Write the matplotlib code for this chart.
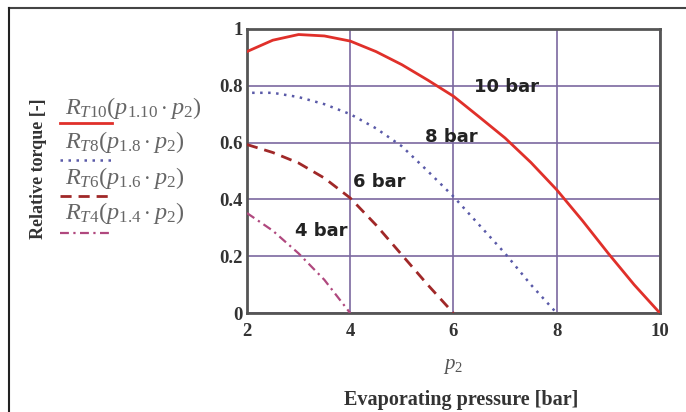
import matplotlib
matplotlib.use("Agg")
import matplotlib.pyplot as plt
from matplotlib.lines import Line2D

# ----------------- DATA -----------------
p2_10 = [2, 2.5, 3, 3.5, 4, 4.5, 5, 5.5, 6, 6.5, 7, 7.5, 8, 8.5, 9, 9.5, 10]
rt_10 = [0.92, 0.96, 0.98, 0.975, 0.957, 0.92, 0.874, 0.82, 0.763, 0.69, 0.616, 0.53, 0.434, 0.325, 0.21, 0.10, 0.0]

p2_8 = [2.1, 2.5, 3, 3.5, 4, 4.5, 5, 5.5, 6, 6.5, 7, 7.5, 8]
rt_8 = [0.775, 0.775, 0.76, 0.735, 0.70, 0.65, 0.587, 0.50, 0.41, 0.31, 0.21, 0.10, 0.0]

p2_6 = [2, 2.5, 3, 3.5, 4, 4.5, 5, 5.5, 6]
rt_6 = [0.593, 0.565, 0.528, 0.475, 0.405, 0.31, 0.205, 0.10, 0.0]

p2_4 = [2, 2.5, 3, 3.5, 4]
rt_4 = [0.352, 0.29, 0.21, 0.117, 0.0]

curve_labels = ["10 bar", "8 bar", "6 bar", "4 bar"]
label_pos = [(6.4, 0.795), (5.45, 0.62), (4.06, 0.46), (2.94, 0.29)]

legend_texts = [r"$R_{T10}(p_{1.10}\cdot p_2)$", r"$R_{T8}(p_{1.8}\cdot p_2)$",
                r"$R_{T6}(p_{1.6}\cdot p_2)$", r"$R_{T4}(p_{1.4}\cdot p_2)$"]

x_ticks = [2, 4, 6, 8, 10]
y_ticks = [0, 0.2, 0.4, 0.6, 0.8, 1]
y_tick_labels = ["0", "0.2", "0.4", "0.6", "0.8", "1"]

# ----------------- STYLES -----------------
plt.rcParams["font.family"] = ["Liberation Serif", "DejaVu Serif"]
plt.rcParams["mathtext.fontset"] = "custom"
plt.rcParams["mathtext.rm"] = "Liberation Serif"
plt.rcParams["mathtext.it"] = "Liberation Serif:italic"

styles = [
    dict(color="#e0302a", lw=2.0, ls="-"),
    dict(color="#5a5aa8", lw=1.8, ls=(0, (1, 2.2))),
    dict(color="#a02828", lw=2.0, ls=(0, (4, 2.5))),
    dict(color="#b0487e", lw=1.6, ls=(0, (4, 2, 1, 2))),
]

fig = plt.figure(figsize=(6.86, 4.12), dpi=100)
ax = fig.add_axes([0.360, 0.240, 0.602, 0.690])

series = [(p2_10, rt_10), (p2_8, rt_8), (p2_6, rt_6), (p2_4, rt_4)]
for (x, y), st in zip(series, styles):
    ax.plot(x, y, **st, zorder=3)

for txt, (tx, ty) in zip(curve_labels, label_pos):
    ax.text(tx, ty, txt, family="DejaVu Sans", fontsize=13, fontweight="semibold",
            color="#222222", va="center", ha="left", zorder=4)

ax.set_xlim(2, 10)
ax.set_ylim(0, 1)
ax.set_xticks(x_ticks)
ax.set_yticks(y_ticks)
ax.set_yticklabels(y_tick_labels)
ax.grid(True, color="#7b68a0", lw=1.2)
ax.tick_params(length=0, labelsize=13.5, pad=3)
ax.tick_params(axis="x", pad=7)
for lab in ax.get_xticklabels() + ax.get_yticklabels():
    lab.set_fontweight("bold")
    lab.set_color("#333333")
for sp in ax.spines.values():
    sp.set_color("#555555")
    sp.set_linewidth(2)

ax.set_xlabel(r"$p_2$", fontsize=15, color="#555555", labelpad=12)

fig.text(0.673, 0.03, "Evaporating pressure [bar]", ha="center", va="center",
         fontsize=14.5, fontweight="bold", color="#333333")
fig.text(0.056, 0.59, "Relative torque [-]", rotation=90, ha="center", va="center",
         fontsize=13, fontweight="bold", color="#333333")

# legend, hand placed like the Mathcad original
text_y = [108, 142, 178, 213]
line_y = [123, 160, 196, 233]
for txt, ty, ly, st in zip(legend_texts, text_y, line_y, styles):
    fig.text(65 / 686, 1 - ty / 412, txt, fontsize=17.5, color="#666666",
             ha="left", va="center")
    fig.add_artist(Line2D([60 / 686, 112 / 686], [1 - ly / 412, 1 - ly / 412],
                          transform=fig.transFigure, **st))

# outer frame
fig.add_artist(Line2D([9 / 686, 1], [1 - 8 / 412, 1 - 8 / 412],
                      transform=fig.transFigure, color="#444444", lw=1.5))
fig.add_artist(Line2D([9 / 686, 9 / 686], [0, 1 - 8 / 412],
                      transform=fig.transFigure, color="#222222", lw=1.5))

fig.savefig("out.png", dpi=100)
